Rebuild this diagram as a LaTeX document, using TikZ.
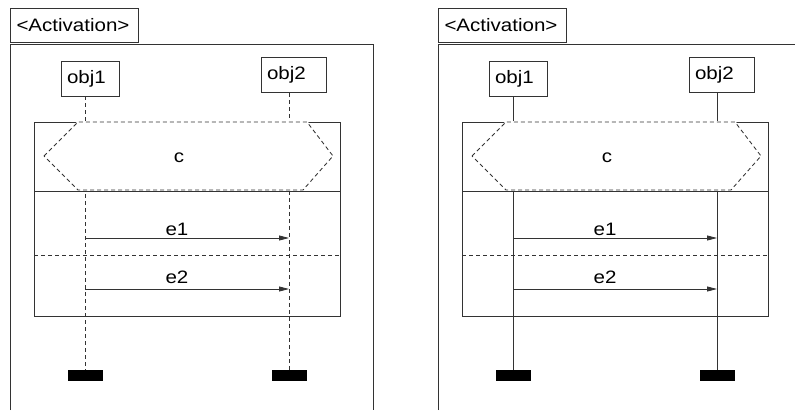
\documentclass[tikz,border=0pt]{standalone}
\usepackage{fontspec}
\setmainfont{Liberation Sans}[FakeStretch=1.14]
\usetikzlibrary{arrows.meta}
\begin{document}
\begin{tikzpicture}[x=1pt,y=-1pt,
  ln/.style={draw=black!80, line width=0.85pt},
  dsh/.style={ln, dash pattern=on 4pt off 3pt},
  txt/.style={font=\fontsize{18}{20}\selectfont, inner sep=0pt},
  labelbox/.style={ln, font=\fontsize{18}{20}\selectfont, minimum height=34pt, inner xsep=6pt, inner ysep=0pt, text width=116pt, align=left},
  objbox/.style={ln, font=\fontsize{18}{20}\selectfont, minimum height=35pt, inner xsep=6pt, inner ysep=0pt, align=left},
  endbar/.style={fill=black, draw=none, minimum width=35pt, minimum height=11pt, inner sep=0pt},
  msg/.style={ln, -{Triangle[length=10pt,width=5pt]}},
  hexfill/.style={fill=white, draw=white, line width=1.6pt},
  hexdash/.style={dsh}
]
\useasboundingbox (0,0) rectangle (795,410);
\newcommand\seqbody[1]{%
  \node[labelbox] (act) at (74.5,25) {<Activation>};
  \node[objbox, text width=46pt] (obj1) at (90,78.5) {obj1};
  \node[objbox, text width=53pt] (obj2) at (293.5,75) {obj2};
  \node[endbar] (end1) at (85,375.5) {};
  \node[endbar] (end2) at (289,375.5) {};
  \draw[ln] (34,122) rectangle (340,316);
  \draw[ln] (34,191) -- (340,191);
  \draw[#1] (obj1.south -| end1.north) -- (end1.north);
  \draw[#1] (obj2.south -| end2.north) -- (end2.north);
  \path[hexfill] (44,156) -- (78,122) -- (307,122) -- (333,156) -- (303,190) -- (78,190) -- cycle;
  \draw[hexdash] (44,156) -- (78,122) -- (307,122) -- (333,156) -- (303,190) -- (78,190) -- cycle;
  \draw[dsh] (34,255) -- (340,255);
  \coordinate (e1s) at (85,238);
  \coordinate (e1t) at (289,238);
  \coordinate (e2s) at (85,289);
  \coordinate (e2t) at (289,289);
  \draw[msg] (e1s) -- (e1t);
  \draw[msg] (e2s) -- (e2t);
  \node[txt] (c) at (179,157.5) {c};
  \node[txt] (e1) at (177,229) {e1};
  \node[txt] (e2) at (177,277.5) {e2};
}
\begin{scope}[name prefix=L-]
  \draw[ln] (10,410) -- (10,44) -- (373,44) -- (373,410);
  \seqbody{dsh}
\end{scope}
\begin{scope}[name prefix=R-, xshift=428pt]
  \draw[ln] (10,410) -- (10,44) -- (367,44);
  \seqbody{ln}
\end{scope}
\end{tikzpicture}
\end{document}
